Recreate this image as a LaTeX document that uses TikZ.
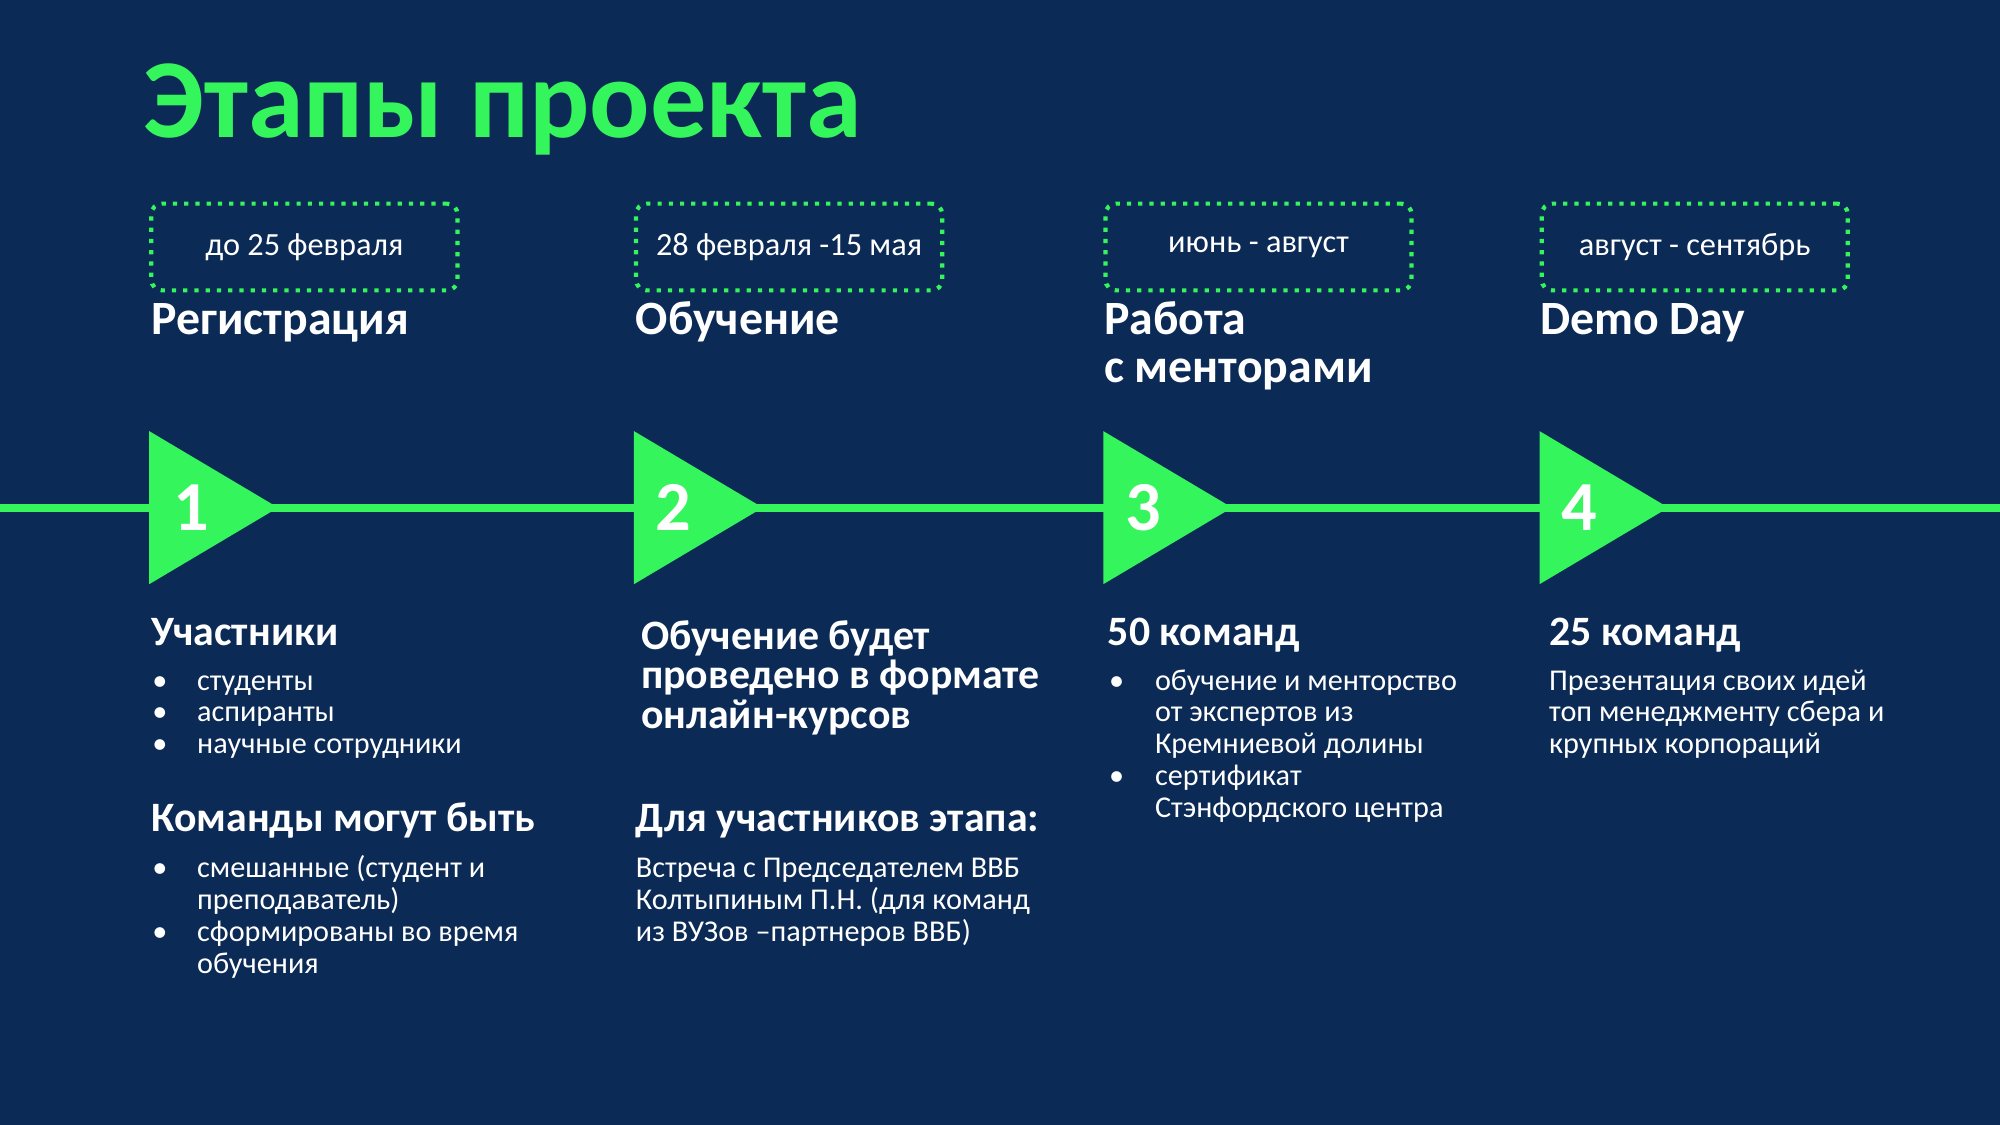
\documentclass[tikz,border=0pt]{standalone}
\usepackage{fontspec}
\setmainfont{Carlito}
\definecolor{bg}{HTML}{0B2A55}
\definecolor{gr}{HTML}{35F55C}
\begin{document}
\begin{tikzpicture}[x=0.012755cm,y=-0.012755cm,
  tx/.style={anchor=base west,inner sep=0,text=white,font=\fontsize{8.6pt}{9pt}\selectfont},
  hd/.style={anchor=base west,inner sep=0,text=white,font=\fontsize{11.9pt}{13pt}\selectfont\bfseries},
  bighd/.style={anchor=base west,inner sep=0,text=white,font=\fontsize{13.6pt}{14pt}\selectfont\bfseries},
  datebox/.style={draw=gr,line width=1.2pt,dotted,rounded corners=3pt,minimum width=240*0.012755cm,minimum height=68*0.012755cm,text=white,font=\fontsize{9.2pt}{10pt}\selectfont},
  tri/.style={fill=gr},
  num/.style={text=white,font=\fontsize{20pt}{22pt}\selectfont\bfseries,inner sep=0}]
\fill[bg] (0,0) rectangle (1568,882);
\useasboundingbox (0,0) rectangle (1568,882);
\node[anchor=base west,inner sep=0,text=gr,font=\fontsize{32pt}{36pt}\selectfont\bfseries] (title) at (112,108) {Этапы проекта};
\draw[gr,line width=2.2pt] (0,398) -- (1568,398);
\foreach \x/\n/\nx in {117/1/150,497/2/528,865/3/896,1207/4/1238}{
  \fill[tri] (\x,338) -- (\x+101,398) -- (\x,458) -- cycle;
  \node[num] (n\n) at (\nx,398) {\n};
}
\node[datebox,anchor=north west] (d1) at (117,158) {до 25 февраля};
\node[datebox,anchor=north west] (d2) at (497,158) {28 февраля -15 мая};
\node[datebox,anchor=north west] (d3) at (865,158) {июнь - август};
\node[datebox,anchor=north west] (d4) at (1207,158) {август - сентябрь};
\node[bighd] (h1) at (118,262) {Регистрация};
\node[bighd] (h2) at (498,262) {Обучение};
\node[bighd] (h3a) at (865,262) {Работа};
\node[bighd] (h3b) at (865,300) {с менторами};
\node[bighd] (h4) at (1207,262) {Demo Day};
% column 1
\node[hd] (c1h) at (118,506) {Участники};
\foreach \y/\t [count=\i] in {541/студенты,566/аспиранты,591/научные сотрудники}{
  \node[tx] (c1b\i) at (119,\y) {•}; \node[tx] (c1t\i) at (154,\y) {\t};}
\node[hd] (c1h2) at (118,652) {Команды могут быть};
\node[tx] (c1c1) at (119,688) {•}; \node[tx] (c1s1) at (154,688) {смешанные (студент и};
\node[tx] (c1s2) at (154,713) {преподаватель)};
\node[tx] (c1c2) at (119,738) {•}; \node[tx] (c1s3) at (154,738) {сформированы во время};
\node[tx] (c1s4) at (154,763) {обучения};
% column 2
\node[hd] (c2a) at (502,509) {Обучение будет};
\node[hd] (c2b) at (502,540) {проведено в формате};
\node[hd] (c2c) at (502,571) {онлайн-курсов};
\node[hd] (c2h) at (498,652) {Для участников этапа:};
\node[tx] (c2t1) at (498,688) {Встреча с Председателем ВВБ};
\node[tx] (c2t2) at (498,713) {Колтыпиным П.Н. (для команд};
\node[tx] (c2t3) at (498,738) {из ВУЗов –партнеров ВВБ)};
% column 3
\node[hd] (c3h) at (868,506) {50 команд};
\node[tx] (c3b1) at (869,541) {•}; \node[tx] (c3t1) at (905,541) {обучение и менторство};
\node[tx] (c3t2) at (905,566) {от экспертов из};
\node[tx] (c3t3) at (905,591) {Кремниевой долины};
\node[tx] (c3b2) at (869,616) {•}; \node[tx] (c3t4) at (905,616) {сертификат};
\node[tx] (c3t5) at (905,641) {Стэнфордского центра};
% column 4
\node[hd] (c4h) at (1214,506) {25 команд};
\node[tx] (c4t1) at (1214,541) {Презентация своих идей};
\node[tx] (c4t2) at (1214,566) {топ менеджменту сбера и};
\node[tx] (c4t3) at (1214,591) {крупных корпораций};
\end{tikzpicture}
\end{document}
